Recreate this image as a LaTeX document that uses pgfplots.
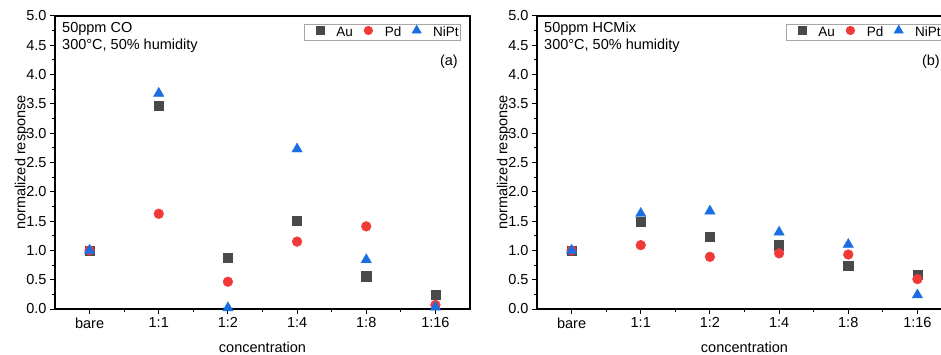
\documentclass[border=0pt]{standalone}
\usepackage{fontspec}
\setmainfont{Liberation Sans}
\usepackage{pgfplots}
\pgfplotsset{compat=1.18}
\definecolor{cAu}{RGB}{73,73,73}
\definecolor{cPd}{RGB}{240,58,58}
\definecolor{cNi}{RGB}{26,110,225}
\pgfplotsset{
  myax/.style={
    scale only axis, width=415pt, height=293pt,
    font=\fontsize{14.5}{17}\selectfont,
    /pgf/number format/assume math mode=true,
    xmin=-0.5, xmax=5.5, ymin=0, ymax=5,
    xtick={0,1,2,3,4,5},
    xticklabels={bare,1:1,1:2,1:4,1:8,1:16},
    minor xtick={0.5,1.5,2.5,3.5,4.5},
    ytick={0,0.5,...,5},
    minor ytick={0.25,0.75,...,4.75},
    yticklabel style={/pgf/number format/.cd,fixed,fixed zerofill,precision=1},
    tick align=outside, xtick pos=bottom, ytick pos=left,
    major tick length=5pt, minor tick length=3pt,
    axis line style={line width=1.2pt},
    every tick/.style={black, line width=1pt},
    xlabel={concentration}, ylabel={normalized response},
    xlabel style={yshift=-7pt},
    ylabel style={yshift=-9pt},
    clip=false,
    legend columns=3,
    legend style={at={(rel axis cs:1,1)}, anchor=north east, xshift=-9pt, yshift=-8pt,
      draw=gray!70, line width=0.8pt, font=\fontsize{13.5}{15}\selectfont,
      inner xsep=1pt, inner ysep=1pt,
      nodes={inner sep=1pt},
      /tikz/every even column/.append style={column sep=0pt}},
    legend image code/.code={\path (-14pt,0pt) (15pt,0pt); \draw[#1, mark options={scale=0.85}] plot coordinates {(0pt,2pt)};},
  },
  sAu/.style={only marks, mark=square*, mark size=4.6pt, color=cAu, mark options={draw=cAu, fill=cAu}},
  sPd/.style={only marks, mark=*, mark size=4.9pt, color=cPd, mark options={draw=cPd, fill=cPd}},
  sNi/.style={only marks, mark=triangle*, mark size=6pt, color=cNi, mark options={draw=cNi, fill=cNi}},
}
\begin{document}
\begin{tikzpicture}[x=1pt,y=1pt]
\useasboundingbox (0,0) rectangle (941,354);
\clip (0,0) rectangle (941,354);
\begin{axis}[myax, at={(55pt,45pt)}, anchor=south west]
\addplot[sAu] coordinates {(0,1.0) (1,3.47) (2,0.88) (3,1.51) (4,0.56) (5,0.24)};
\addplot[sPd] coordinates {(0,1.0) (1,1.625) (2,0.465) (3,1.15) (4,1.41) (5,0.07)};
\addplot[sNi] coordinates {(0,1.0) (1,3.68) (2,0.02) (3,2.73) (4,0.84) (5,0.03)};
\legend{Au,Pd,NiPt}
\node[anchor=north west, align=left, inner sep=0pt, font=\fontsize{14.5}{17}\selectfont] at ([xshift=7pt,yshift=-6pt]rel axis cs:0,1) {50ppm CO\\300°C, 50\% humidity};
\node[anchor=east, inner sep=0pt] at ([xshift=-12pt,yshift=-46pt]rel axis cs:1,1) {(a)};
\end{axis}
\begin{axis}[myax, at={(537pt,45pt)}, anchor=south west]
\addplot[sAu] coordinates {(0,1.0) (1,1.49) (2,1.24) (3,1.09) (4,0.74) (5,0.585)};
\addplot[sPd] coordinates {(0,1.0) (1,1.09) (2,0.89) (3,0.95) (4,0.93) (5,0.51)};
\addplot[sNi] coordinates {(0,1.0) (1,1.63) (2,1.67) (3,1.31) (4,1.10) (5,0.24)};
\legend{Au,Pd,NiPt}
\node[anchor=north west, align=left, inner sep=0pt, font=\fontsize{14.5}{17}\selectfont] at ([xshift=7pt,yshift=-6pt]rel axis cs:0,1) {50ppm HCMix\\300°C, 50\% humidity};
\node[anchor=east, inner sep=0pt] at ([xshift=-12pt,yshift=-46pt]rel axis cs:1,1) {(b)};
\end{axis}
\end{tikzpicture}
\end{document}
